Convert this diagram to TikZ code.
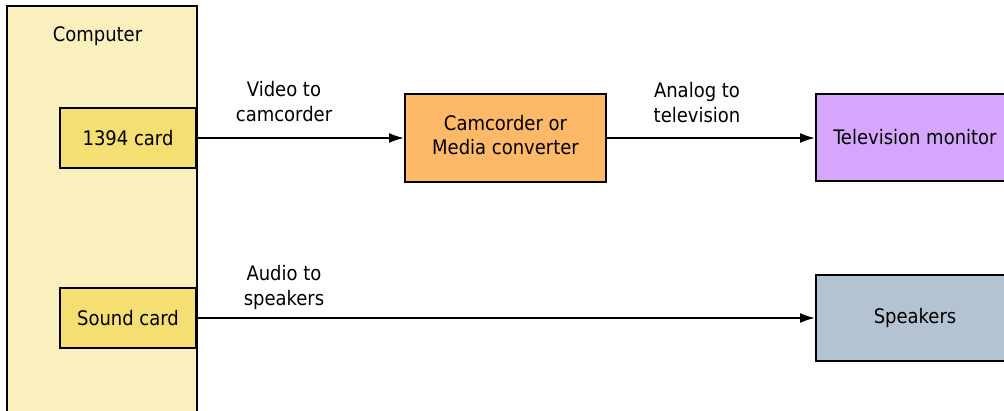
\documentclass[tikz,border=0pt]{standalone}
\usepackage{fontspec}
\setmainfont{DejaVu Sans Condensed}
\usetikzlibrary{arrows.meta}
\definecolor{compfill}{HTML}{FAF0BE}
\definecolor{cardfill}{HTML}{F6DF72}
\definecolor{camfill}{HTML}{FDB968}
\definecolor{tvfill}{HTML}{D6A6FD}
\definecolor{spkfill}{HTML}{B4C3D2}
\tikzset{
  box/.style={draw=black, line width=2pt, inner sep=0pt, align=center,
    font=\fontsize{20}{24}\selectfont},
  lbl/.style={inner sep=0pt, align=center, font=\fontsize{20}{25}\selectfont},
  conn/.style={line width=1.8pt, -{Latex[length=15pt,width=10pt]}}
}
\begin{document}
\begin{tikzpicture}[x=1pt,y=-1pt]
\clip (0,0) rectangle (1004,410);
\fill[white] (0,0) rectangle (1004,410);
\node[box, fill=compfill, minimum width=190pt, minimum height=424pt] (comp) at (102,218) {};
\node[lbl, anchor=base] (comptext) at (97.5,41) {Computer};
\node[box, fill=cardfill, minimum width=136pt, minimum height=60pt] (card) at (128,138) {1394 card};
\node[box, fill=cardfill, minimum width=136pt, minimum height=60pt] (sound) at (128,318) {Sound card};
\node[box, fill=camfill, minimum width=201pt, minimum height=88pt] (cam) at (505.5,138) {\raisebox{3pt}{\begin{tabular}{@{}c@{}}Camcorder or\\Media converter\end{tabular}}};
\node[box, fill=tvfill, minimum width=198pt, minimum height=87pt] (tv) at (915,137.5) {\raisebox{2pt}{Television monitor}};
\node[box, fill=spkfill, minimum width=198pt, minimum height=86pt] (spk) at (915,318) {Speakers};
\draw[conn] (card.east) -- (cam.west);
\draw[conn] (cam.east) -- (tv.west |- cam.east);
\draw[conn] (sound.east) -- (spk.west |- sound.east);
\node[lbl] (l1) at (284,102) {Video to\\camcorder};
\node[lbl] (l2) at (697,103) {Analog to\\television};
\node[lbl] (l3) at (284,287) {Audio to\\speakers};
\end{tikzpicture}
\end{document}
